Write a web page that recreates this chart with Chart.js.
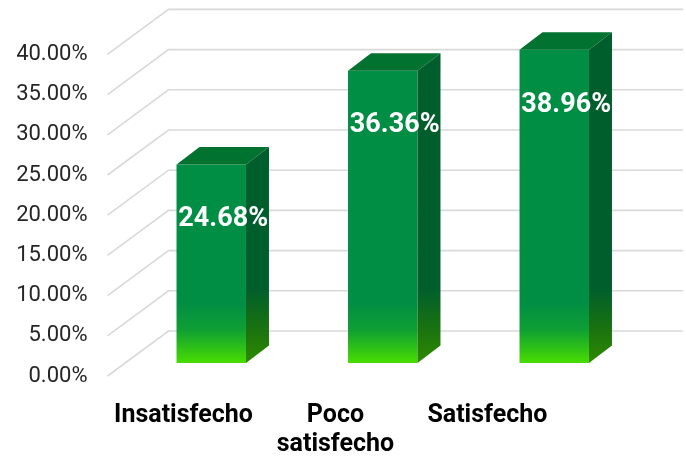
<!DOCTYPE html>
<html>
<head>
<meta charset="utf-8">
<script src="https://cdn.jsdelivr.net/npm/chart.js@4"></script>
<style>
  html, body { margin: 0; padding: 0; background: #ffffff; }
  #wrap { width: 686px; height: 460px; }
</style>
</head>
<body>
<div id="wrap"><canvas id="chart" width="686" height="460"></canvas></div>
<script>
const categories = ['Insatisfecho', 'Poco satisfecho', 'Satisfecho'];
const values = [24.68, 36.36, 38.96];
const yTicks = [0, 5, 10, 15, 20, 25, 30, 35, 40];

// fake 3d: bar depth, floor front edge and back wall relative to the bar plane
const DEPTH_X = 23, DEPTH_Y = 17.5;
const FRONT_DX = -18, FRONT_DY = 13;
const WALL_DX = 43, WALL_DY = -32;

function wrapLabel(s) {
    return s.indexOf(' ') > 0 && s.length > 12 ? s.split(' ') : [s];
}

const grid3d = {
    id: 'grid3d',
    beforeDatasetsDraw(chart) {
        const { ctx, chartArea } = chart;
        const y = chart.scales.y;
        ctx.save();
        ctx.strokeStyle = '#d9d9d9';
        ctx.lineWidth = 1.6;
        yTicks.forEach(v => {
            const py = y.getPixelForValue(v);
            ctx.beginPath();
            ctx.moveTo(chartArea.left + FRONT_DX, py + FRONT_DY);
            ctx.lineTo(chartArea.left + WALL_DX, py + WALL_DY);
            ctx.lineTo(chartArea.right + WALL_DX, py + WALL_DY);
            ctx.stroke();
        });
        ctx.restore();
    }
};

const bars3d = {
    id: 'bars3d',
    afterDatasetsDraw(chart) {
        const { ctx, chartArea } = chart;
        const meta = chart.getDatasetMeta(0);
        ctx.save();
        meta.data.forEach((bar, i) => {
            const xl = bar.x - bar.width / 2;
            const xr = bar.x + bar.width / 2;
            const yt = bar.y;
            const yb = bar.base;

            // top face
            ctx.fillStyle = '#01722f';
            ctx.beginPath();
            ctx.moveTo(xl, yt);
            ctx.lineTo(xr, yt);
            ctx.lineTo(xr + DEPTH_X, yt - DEPTH_Y);
            ctx.lineTo(xl + DEPTH_X, yt - DEPTH_Y);
            ctx.closePath();
            ctx.fill();

            // side face
            const g = ctx.createLinearGradient(0, yb - 75, 0, yb);
            g.addColorStop(0, '#005e2d');
            g.addColorStop(0.55, '#1a730f');
            g.addColorStop(1, '#2f8a00');
            ctx.fillStyle = g;
            ctx.beginPath();
            ctx.moveTo(xr, yt);
            ctx.lineTo(xr + DEPTH_X, yt - DEPTH_Y);
            ctx.lineTo(xr + DEPTH_X, yb - DEPTH_Y);
            ctx.lineTo(xr, yb);
            ctx.closePath();
            ctx.fill();

            // value label
            ctx.fillStyle = '#ffffff';
            ctx.font = 'bold 27px Roboto';
            ctx.textAlign = 'center';
            ctx.textBaseline = 'middle';
            ctx.fillText(values[i].toFixed(2) + '%', bar.x + 12, yt + 55);
        });

        // category labels along the front edge of the floor
        const x = chart.scales.x;
        const floorLeft = chartArea.left + FRONT_DX;
        const k = 0.886;
        ctx.fillStyle = '#000000';
        ctx.font = 'bold 25px Roboto';
        ctx.textAlign = 'center';
        ctx.textBaseline = 'middle';
        categories.forEach((c, i) => {
            const px = floorLeft + (x.getPixelForValue(i) - chartArea.left) * k;
            wrapLabel(c).forEach((line, j) => {
                ctx.fillText(line, px, 416 + j * 29);
            });
        });
        ctx.restore();
    }
};

new Chart(document.getElementById('chart'), {
    type: 'bar',
    data: {
        labels: categories,
        datasets: [{
            data: values,
            backgroundColor: (c) => {
                const area = c.chart.chartArea;
                if (!area) return '#008e44';
                const g = c.chart.ctx.createLinearGradient(0, area.bottom - 60, 0, area.bottom);
                g.addColorStop(0, '#008e44');
                g.addColorStop(0.45, '#0f9f33');
                g.addColorStop(1, '#48dd00');
                return g;
            },
            borderWidth: 0,
            barPercentage: 0.405,
            categoryPercentage: 1
        }]
    },
    options: {
        responsive: false,
        animation: false,
        layout: { padding: { top: 41.4, bottom: 97, left: 17, right: 46 } },
        plugins: {
            legend: { display: false },
            tooltip: { enabled: false }
        },
        scales: {
            x: {
                grid: { display: false, drawTicks: false },
                border: { display: false },
                ticks: { display: false },
                afterFit: s => { s.height = 0; }
            },
            y: {
                min: 0,
                max: 40,
                grid: { display: false, drawTicks: false },
                border: { display: false },
                afterFit: s => {
                    s.width = 108.5;
                    s.paddingTop = 0;
                    s.paddingBottom = 0;
                },
                ticks: {
                    stepSize: 5,
                    padding: 38,
                    labelOffset: 13,
                    color: '#262626',
                    font: { family: 'Roboto', size: 22 },
                    callback: v => v.toFixed(2) + '%'
                }
            }
        }
    },
    plugins: [grid3d, bars3d]
});
</script>
</body>
</html>
